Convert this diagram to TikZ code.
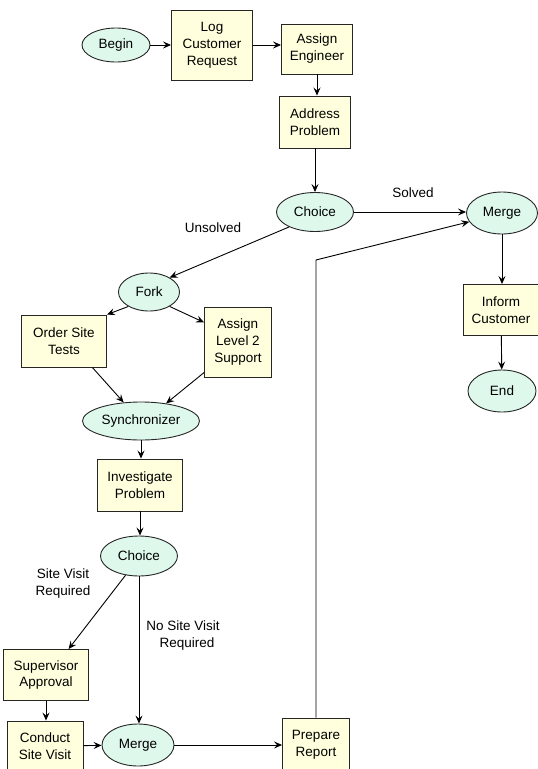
\documentclass[tikz,border=0pt]{standalone}
\usepackage{fontspec}
\setmainfont{Liberation Sans}
\usetikzlibrary{calc,shapes,arrows.meta}

\definecolor{actfill}{RGB}{255,255,221}
\definecolor{statefill}{RGB}{222,249,236}

\tikzset{
    act/.style={draw=black!85, fill=actfill, align=center, inner sep=2pt},
    state/.style={ellipse, draw=black!85, fill=statefill, inner sep=1pt},
    lbl/.style={align=center, inner sep=0pt}
}

\begin{document}
\begin{tikzpicture}[x=1pt,y=-1pt,line width=0.9pt,
        >={Stealth[length=8pt,width=7pt,inset=3pt]},
        font=\fontsize{13.5}{17}\selectfont]
        \useasboundingbox (0,0) rectangle (538,769);
        % top row
        \node[state, minimum width=68pt, minimum height=34pt] (begin) at (116,45) {Begin};
        \node[act, minimum width=81pt, minimum height=70pt] (log) at (212,45) {Log\\Customer\\Request};
        \node[act, minimum width=71pt, minimum height=50pt] (assign) at (317,49) {Assign\\Engineer};
        \node[act, minimum width=71pt, minimum height=52pt] (address) at (315,122) {Address\\Problem};
        \node[state, minimum width=77pt, minimum height=39pt] (choice1) at (315,212) {Choice};
        \node[state, minimum width=71pt, minimum height=42pt] (merge1) at (502,213) {Merge};
        \node[act, minimum width=75pt, minimum height=51pt] (inform) at (501,310) {Inform\\Customer};
        \node[state, minimum width=68pt, minimum height=42pt] (end) at (502,391) {End};
        % fork part
        \node[state, minimum width=61pt, minimum height=38pt] (fork) at (149,292) {Fork};
        \node[act, minimum width=85pt, minimum height=52pt] (order) at (64,341) {Order Site\\Tests};
        \node[act, minimum width=67pt, minimum height=70pt] (level2) at (238,342) {Assign\\Level 2\\Support};
        \node[state, minimum width=117pt, minimum height=38pt] (sync) at (141,421) {Synchronizer};
        \node[act, minimum width=85pt, minimum height=52pt] (investigate) at (140,485) {Investigate\\Problem};
        \node[state, minimum width=77pt, minimum height=40pt] (choice2) at (139,556) {Choice};
        % bottom part
        \node[act, minimum width=85pt, minimum height=51pt] (supervisor) at (46,675) {Supervisor\\Approval};
        \node[act, minimum width=76pt, minimum height=50pt] (conduct) at (45,746) {Conduct\\Site Visit};
        \node[state, minimum width=72pt, minimum height=42pt] (merge2) at (138,745) {Merge};
        \node[act, minimum width=67pt, minimum height=54pt] (prepare) at (316,745) {Prepare\\Report};
        \coordinate (bend) at (316,260);

        % labels
        \node[lbl] (solved) at (413,193) {Solved};
        \node[lbl] (unsolved) at (213,228) {Unsolved};
        \node[lbl] (sitevisit) at (63,584) {Site Visit\\Required};
        \node[lbl] (nositevisit) at (183,636) {No Site Visit\\\hspace*{8pt}Required};

        % connectors
        \draw[->] (begin) -- (log);
        \draw[->] (log.east) -- (log.east -| assign.west);
        \draw[->] (assign.south) -- (assign.south |- address.north);
        \draw[->] (address.south) -- (choice1.north);
        \draw[->] (choice1.east) -- (choice1.east -| merge1.west);
        \draw[->] (merge1.south) -- (merge1.south |- inform.north);
        \draw[->] (inform) -- (end);
        \draw[->] (choice1.210) -- (fork.35);
        \draw[->] (fork.215) -- (order.north east);
        \draw[->] (fork.325) -- (level2.150);
        \draw[->] (order.317) -- (sync.133);
        \draw[->] (level2.222) -- (sync.35);
        \draw[->] (sync.south) -- (sync.south |- investigate.north);
        \draw[->] (investigate.south) -- (investigate.south |- choice2.north);
        \draw[->] (choice2.235) -- (supervisor.49);
        \draw[->] (choice2.south) -- (choice2.south |- merge2.north);
        \draw[->] (supervisor.south) -- (supervisor.south |- conduct.north);
        \draw[->] (conduct) -- (merge2);
        \draw[->] (merge2) -- (prepare);
        \draw[->] (prepare.north) -- (bend) -- (merge1.195);
    \end{tikzpicture}
\end{document}
